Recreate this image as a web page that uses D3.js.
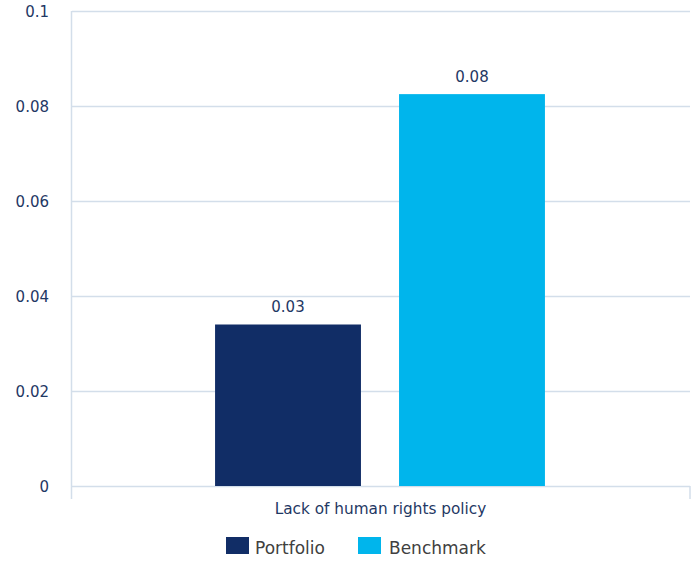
<!DOCTYPE html>
<html>
<head>
<meta charset="utf-8">
<script src="https://cdn.jsdelivr.net/npm/d3@7"></script>
<style>
  body { margin: 0; background: #fff; }
  svg { display: block; font-family: "DejaVu Sans", Verdana, sans-serif; }
</style>
</head>
<body>
<svg></svg>
<script>
const categories = ["Lack of human rights policy"];
const seriesNames = ["Portfolio", "Benchmark"];
const portfolioValues = [0.034];
const benchmarkValues = [0.0825];
const valueLabels = [["0.03"], ["0.08"]];
const yTicks = [0, 0.02, 0.04, 0.06, 0.08, 0.1];

const svgSize = { width: 700, height: 562 };
const svg = d3.select("svg").attr("width", svgSize.width).attr("height", svgSize.height);
const colors = ["#112d66", "#00b5ec"];
const gridColor = "#d3deea";
const textColor = "#1f3864";

const plot = { left: 72, right: 690, top: 11, bottom: 486 };

const y = d3.scaleLinear().domain([0, 0.1]).range([plot.bottom, plot.top]);
const x0 = d3.scaleBand().domain(categories).range([plot.left, plot.right]).padding(0);
const x1 = d3.scaleBand().domain(seriesNames).range([-1, x0.bandwidth() - 1])
  .paddingInner(0.207).paddingOuter(0.783);

// gridlines
svg.append("g").selectAll("line").data(yTicks).enter().append("line")
  .attr("x1", plot.left).attr("x2", plot.right)
  .attr("y1", d => Math.round(y(d)) + 0.5).attr("y2", d => Math.round(y(d)) + 0.5)
  .attr("stroke", gridColor).attr("stroke-width", 1.5);

// axis lines / ticks
svg.append("line").attr("x1", plot.left - 0.5).attr("x2", plot.left - 0.5)
  .attr("y1", plot.top).attr("y2", plot.bottom + 13)
  .attr("stroke", gridColor).attr("stroke-width", 1.5);
svg.append("line").attr("x1", plot.right).attr("x2", plot.right)
  .attr("y1", plot.bottom).attr("y2", plot.bottom + 13)
  .attr("stroke", gridColor).attr("stroke-width", 1.5);

// y tick labels
svg.append("g").selectAll("text").data(yTicks).enter().append("text")
  .attr("x", 49).attr("y", d => y(d) + 5.5)
  .attr("text-anchor", "end").attr("font-size", 15).attr("fill", textColor)
  .text(d => d === 0 ? "0" : d3.format("~g")(d));

// bars
const seriesValues = [portfolioValues, benchmarkValues];
seriesNames.forEach((s, si) => {
  const g = svg.append("g");
  g.selectAll("rect").data(categories).enter().append("rect")
    .attr("x", c => x0(c) + x1(s))
    .attr("y", (c, i) => y(seriesValues[si][i]))
    .attr("width", x1.bandwidth())
    .attr("height", (c, i) => y(0) - y(seriesValues[si][i]))
    .attr("fill", colors[si]);
  g.selectAll("text").data(categories).enter().append("text")
    .attr("x", c => x0(c) + x1(s) + x1.bandwidth() / 2)
    .attr("y", (c, i) => y(seriesValues[si][i]) - 12.5)
    .attr("text-anchor", "middle").attr("font-size", 15).attr("fill", textColor)
    .text((c, i) => valueLabels[si][i]);
});

// category label
svg.append("g").selectAll("text").data(categories).enter().append("text")
  .attr("x", c => x0(c) + x0.bandwidth() / 2 - 0.5).attr("y", 513.5)
  .attr("text-anchor", "middle").attr("font-size", 15.3).attr("fill", textColor)
  .text(c => c);

// legend
const legendItems = [{ x: 226, tx: 255 }, { x: 358, tx: 389 }];
const legend = svg.append("g");
seriesNames.forEach((s, i) => {
  legend.append("rect").attr("x", legendItems[i].x).attr("y", 537)
    .attr("width", 23).attr("height", 17).attr("fill", colors[i]);
  legend.append("text").attr("x", legendItems[i].tx).attr("y", 554)
    .attr("font-size", 17).attr("fill", "#404040").text(s);
});
</script>
</body>
</html>
